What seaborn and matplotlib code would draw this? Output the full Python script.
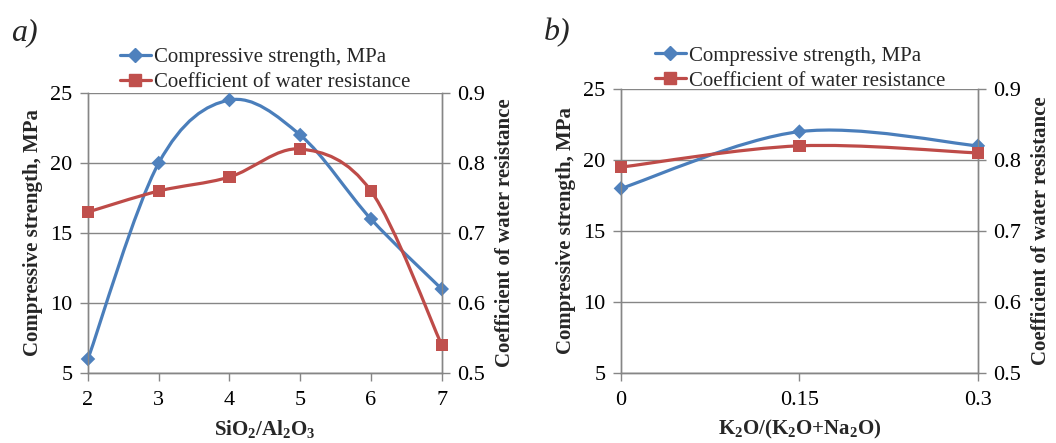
import numpy as np
import pandas as pd
import matplotlib
matplotlib.use("Agg")
import matplotlib.pyplot as plt
from matplotlib.path import Path
from matplotlib.patches import PathPatch
from matplotlib.lines import Line2D
import seaborn as sns

# data
ratio_si_al = [2, 3, 4, 5, 6, 7]
strength_a = [6, 20, 24.5, 22, 16, 11]
coef_a = [0.73, 0.76, 0.78, 0.82, 0.76, 0.54]

ratio_k = [0, 0.15, 0.3]
ratio_k_labels = ["0", "0.15", "0.3"]
strength_b = [18, 22, 21]
coef_b = [0.79, 0.82, 0.81]

BLUE_LINE, BLUE_MARK = "#4A7EBB", "#4F81BD"
RED_LINE, RED_MARK = "#BE4B48", "#C0504D"
GREY = "#868686"
FS = 15
TICK_FS = 16

sns.set_theme(style="white")
plt.rcParams["font.family"] = ["Liberation Serif", "DejaVu Serif"]
plt.rcParams["mathtext.fontset"] = "custom"
plt.rcParams["mathtext.rm"] = "Liberation Serif"
plt.rcParams["mathtext.bf"] = "Liberation Serif:bold"
plt.rcParams["mathtext.it"] = "Liberation Serif:italic"


def smooth_path(x, y):
    """Excel-like smoothed line: Catmull-Rom segments as cubic Bezier."""
    p = np.column_stack([x, y]).astype(float)
    ext = np.vstack([p[0], p, p[-1]])
    verts, codes = [p[0]], [Path.MOVETO]
    for i in range(len(p) - 1):
        c1 = ext[i + 1] + (ext[i + 2] - ext[i]) / 6
        c2 = ext[i + 2] - (ext[i + 3] - ext[i + 1]) / 6
        verts += [c1, c2, ext[i + 2]]
        codes += [Path.CURVE4] * 3
    return Path(verts, codes)


def panel(fig, rect, x, s, c, xlim, xlabel, letter, xticklabels=None, leg_anchor=(0.08, 1.09)):
    ax = fig.add_axes(rect)
    ax2 = ax.twinx()
    df = pd.DataFrame({"x": x, "s": s, "c": c})

    ax.add_patch(PathPatch(smooth_path(x, s), fill=False, ec=BLUE_LINE, lw=2.3,
                           capstyle="round", zorder=3, clip_on=False))
    sns.scatterplot(data=df, x="x", y="s", ax=ax, marker="D", s=55, color=BLUE_MARK,
                    edgecolor="none", zorder=4, legend=False, clip_on=False)
    ax2.add_patch(PathPatch(smooth_path(x, c), fill=False, ec=RED_LINE, lw=2.3,
                            capstyle="round", zorder=3, clip_on=False))
    sns.scatterplot(data=df, x="x", y="c", ax=ax2, marker="s", s=80, color=RED_MARK,
                    edgecolor="none", zorder=4, legend=False, clip_on=False)

    ax.set_xlim(*xlim)
    ax.set_ylim(5, 25)
    ax2.set_ylim(0.5, 0.9)
    ax.set_yticks([5, 10, 15, 20, 25])
    ax2.set_yticks([0.5, 0.6, 0.7, 0.8, 0.9])
    ax2.set_yticklabels(["0.5", "0.6", "0.7", "0.8", "0.9"])
    ax.set_xticks(x)
    if xticklabels:
        ax.set_xticklabels(xticklabels)

    ax.yaxis.grid(True, color=GREY, lw=1)
    ax.set_axisbelow(True)
    for a in (ax, ax2):
        for side in ("left", "right", "bottom"):
            a.spines[side].set_color(GREY)
            a.spines[side].set_linewidth(1)
        a.spines["top"].set_visible(False)
        a.tick_params(length=6, width=1, color=GREY, labelsize=TICK_FS, pad=5,
                      direction="out", labelcolor="black")
    ax.tick_params(axis="x", pad=7)
    ax.tick_params(axis="y", left=True)
    ax2.tick_params(axis="y", right=True)
    ax.xaxis.set_ticks_position("bottom")

    ax.set_xlabel(xlabel, fontsize=FS, fontweight="bold", labelpad=6)
    ax.set_ylabel("Compressive strength, MPa", fontsize=FS, fontweight="bold", labelpad=5)
    ax2.set_ylabel("Coefficient of water resistance", fontsize=FS, fontweight="bold",
                   rotation=90, labelpad=7)

    handles = [
        Line2D([], [], color=BLUE_LINE, lw=2.3, marker="D", ms=7, mfc=BLUE_MARK, mec=BLUE_MARK),
        Line2D([], [], color=RED_LINE, lw=2.3, marker="s", ms=8.5, mfc=RED_MARK, mec=RED_MARK),
    ]
    ax2.legend(handles, ["Compressive strength, MPa", "Coefficient of water resistance"],
               loc="center left", bbox_to_anchor=leg_anchor, frameon=False, fontsize=FS,
               handlelength=1.5, handletextpad=0.15, labelspacing=0.25, borderpad=0,
               borderaxespad=0)

    fig.text(rect[0] - 0.073, 0.96, letter, fontsize=23, style="italic",
             va="top", ha="left", family=["Liberation Serif"])
    return ax


fig = plt.figure(figsize=(10.56, 4.43), dpi=100)

panel(fig, [0.0833, 0.158, 0.335, 0.632], ratio_si_al, strength_a, coef_a, (2, 7),
      r"SiO$_\mathbf{2}$/Al$_\mathbf{2}$O$_\mathbf{3}$", "a)", leg_anchor=(0.09, 1.083))
panel(fig, [0.588, 0.158, 0.338, 0.641], ratio_k, strength_b, coef_b, (0, 0.3),
      r"K$_\mathbf{2}$O/(K$_\mathbf{2}$O+Na$_\mathbf{2}$O)", "b)",
      xticklabels=ratio_k_labels, leg_anchor=(0.095, 1.073))

fig.savefig("out.png", dpi=100)
